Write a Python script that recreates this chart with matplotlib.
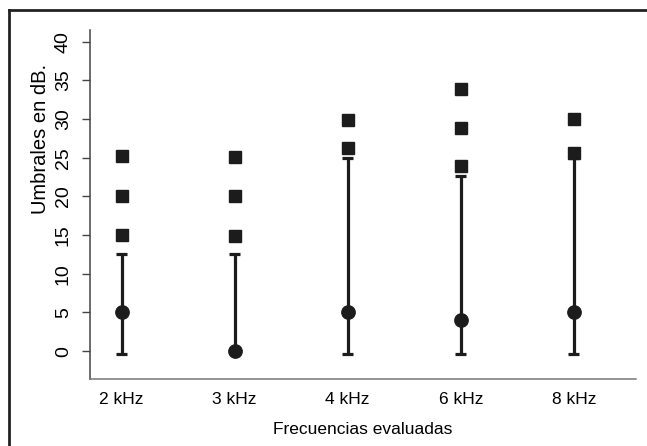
import matplotlib
matplotlib.use("Agg")
import matplotlib.pyplot as plt
from matplotlib.lines import Line2D

plt.rcParams['font.family'] = ['Liberation Sans', 'DejaVu Sans']

frequencies = ['2 kHz', '3 kHz', '4 kHz', '6 kHz', '8 kHz']
medians = [5, 0, 5, 4, 5]
whisker_low = [-0.4, 0, -0.4, -0.4, -0.4]
whisker_high = [12.5, 12.5, 25, 22.6, 25]
outliers = [
    [15, 20, 25.2],
    [14.9, 20.1, 25.1],
    [26.3, 29.9],
    [23.9, 28.9, 33.9],
    [25.6, 30],
]
y_ticks = [0, 5, 10, 15, 20, 25, 30, 35, 40]

dark = '#1c1c1c'
fig = plt.figure(figsize=(6.47, 4.46), dpi=100)
ax = fig.add_axes([90/647, 1 - 379/446, (636-90)/647, (379-30)/446])

positions = list(range(1, len(frequencies) + 1))
ax.vlines(positions, whisker_low, whisker_high, color=dark, lw=2.3, zorder=2)
cap_w = 0.05
for p, lo, hi in zip(positions, whisker_low, whisker_high):
    ax.hlines([lo, hi], p - cap_w, p + cap_w, color=dark, lw=2.3, zorder=2)
ax.plot(positions, medians, 'o', color=dark, ms=9.6, zorder=3)
for p, outs in zip(positions, outliers):
    ax.plot([p]*len(outs), outs, 's', color=dark, ms=8.2, zorder=3)

ax.set_xlim(0.72, 5.55)
ax.set_ylim(-3.6, 41.5)
ax.set_xticks(positions)
ax.set_xticklabels(frequencies, fontsize=12.5)
ax.tick_params(axis='x', length=0, pad=9)
ax.set_yticks(y_ticks)
ax.set_yticklabels([str(v) for v in y_ticks], fontsize=14, rotation=90, va='center')
ax.tick_params(axis='y', length=6, width=1, color='#444444', pad=7)
for s in ['top', 'right']:
    ax.spines[s].set_visible(False)
ax.spines['left'].set_color('#444444')
ax.spines['bottom'].set_color('#777777')
ax.spines['left'].set_linewidth(1.1)
ax.spines['bottom'].set_linewidth(1.1)
ax.set_xlabel('Frecuencias evaluadas', fontsize=12.5, labelpad=11)
ax.set_ylabel('Umbrales en dB.', fontsize=14.5)
ax.yaxis.set_label_coords(-0.074, 0.688)

# figure frame (top and left)
fig.add_artist(Line2D([9/647, 1], [1 - 10/446, 1 - 10/446], transform=fig.transFigure, color='#222222', lw=2))
fig.add_artist(Line2D([9/647, 9/647], [0, 1 - 10/446], transform=fig.transFigure, color='#222222', lw=2))

fig.savefig('out.png', dpi=100)
